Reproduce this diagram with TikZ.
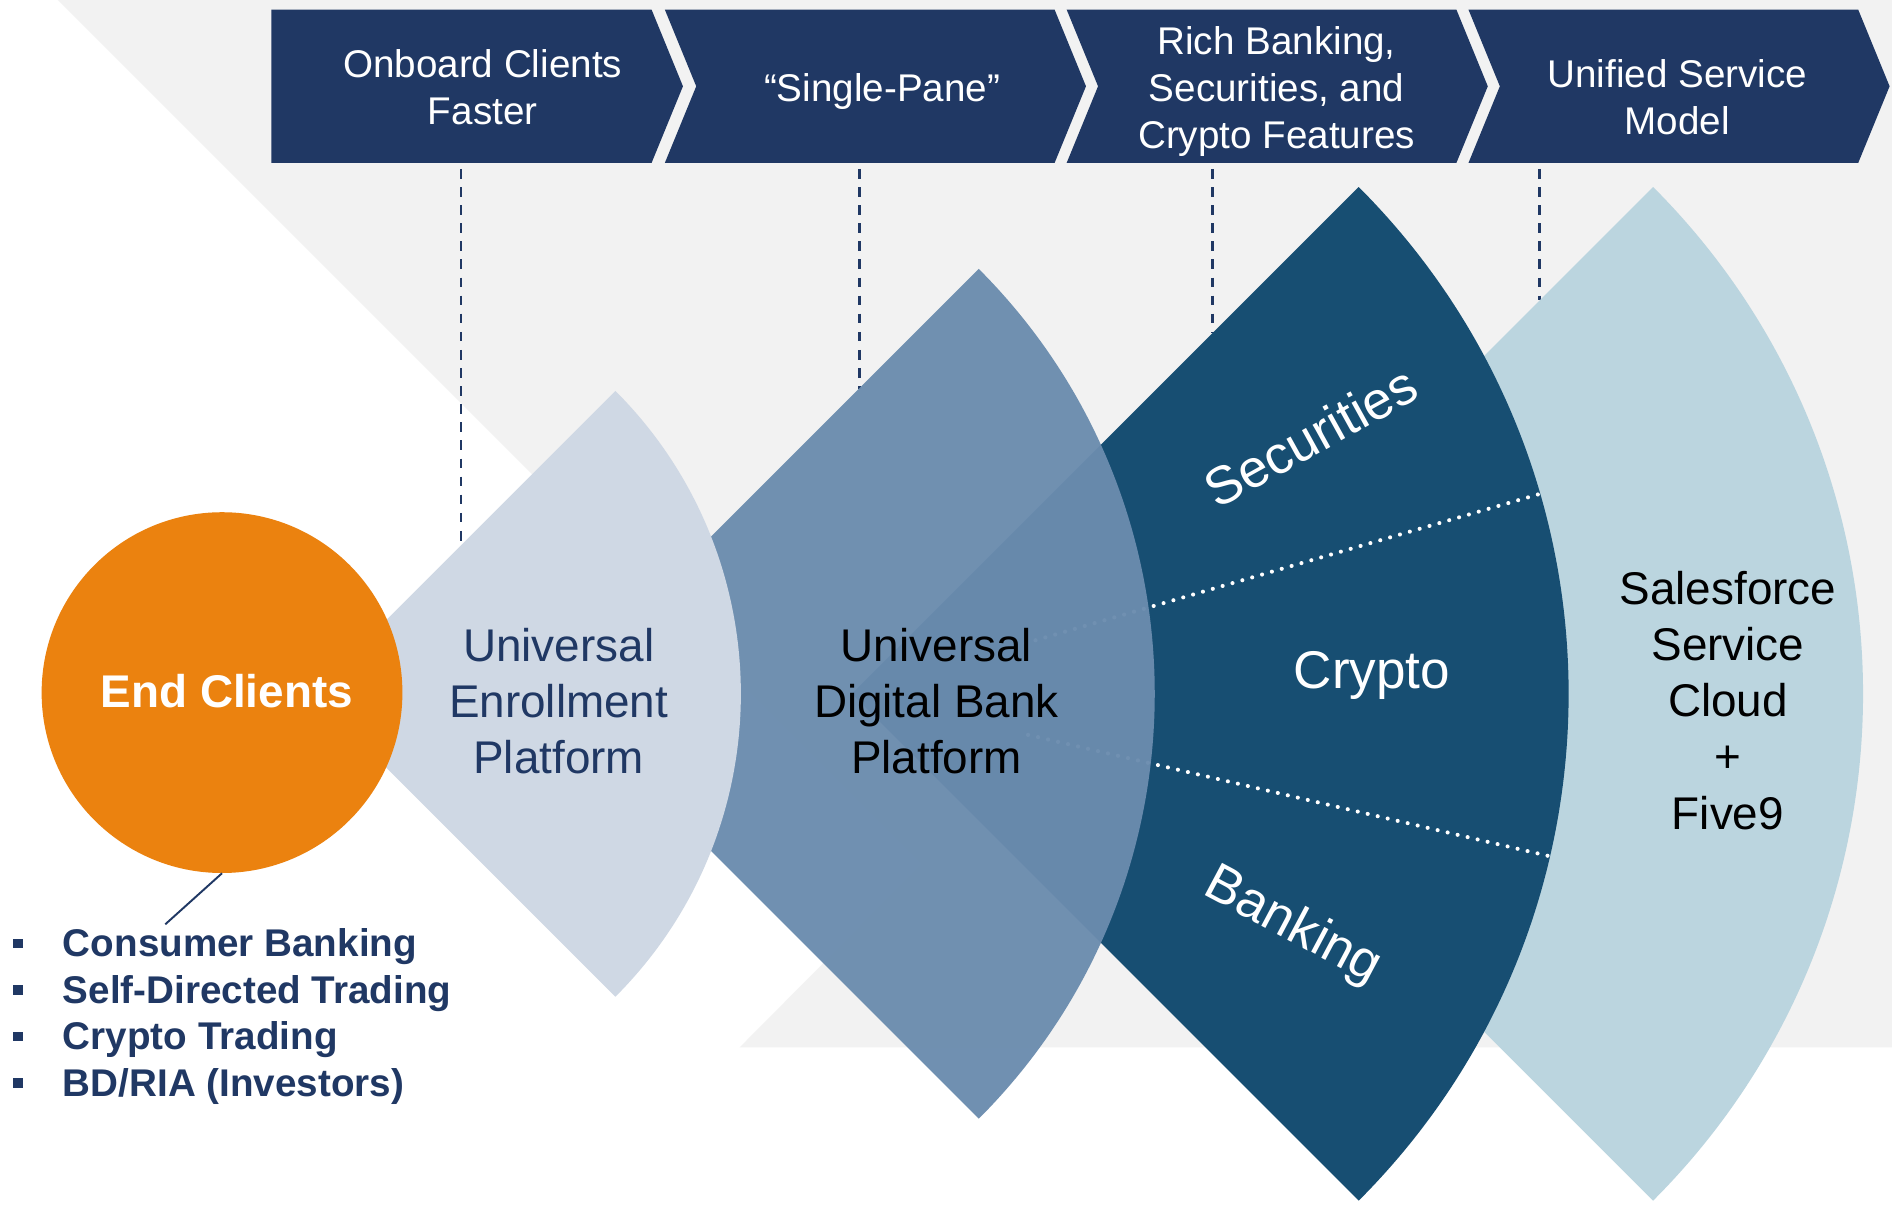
\documentclass[tikz,border=0pt]{standalone}
\usepackage{fontspec}
\setmainfont{Liberation Sans}
\definecolor{navy}{HTML}{203864}
\definecolor{bggray}{HTML}{F2F2F2}
\definecolor{fanA}{HTML}{CFD8E4}
\definecolor{fanB}{HTML}{6B8CAE}
\definecolor{fanC}{HTML}{174E72}
\definecolor{fanD}{HTML}{BBD5DF}
\definecolor{orng}{HTML}{EB820F}
\begin{document}
\begin{tikzpicture}[x=1pt,y=-1pt,
  chev/.style={fill=navy},
  chevtxt/.style={text=white, font=\fontsize{32}{39}\selectfont, align=center, inner sep=0},
  fantxt/.style={font=\fontsize{38}{46.5}\selectfont, align=center, inner sep=0},
  seg/.style={text=white, font=\fontsize{44}{52}\selectfont, inner sep=0},
  dashline/.style={navy, line width=2.3pt, dash pattern=on 8pt off 7pt},
  dotline/.style={white, line width=3.4pt, line cap=round, dash pattern=on 0pt off 8.5pt},
  listtxt/.style={text=navy, font=\fontsize{32}{38}\selectfont\bfseries, anchor=base west, inner sep=0},
  bulletbox/.style={fill=navy, minimum size=8pt, inner sep=0}]
\useasboundingbox (0,0) rectangle (1568,1006);
\fill[white] (0,0) rectangle (1568,1006);
% background
\fill[bggray] (48,0) -- (1568,0) -- (1568,868) -- (613,868) -- (764,716) -- cycle;

% chevrons
\fill[chev] (225,8) -- (540,8) -- (566,71.5) -- (540,135) -- (225,135) -- cycle;
\foreach \L in {551,884,1217}
  \fill[chev] (\L,8) -- (\L+323,8) -- (\L+349,71.5) -- (\L+323,135) -- (\L,135) -- (\L+26,71.5) -- cycle;
\node[chevtxt] (c1) at (400,72) {Onboard Clients\\Faster};
\node[chevtxt] (c2) at (731,76) {“Single-Pane”};
\node[chevtxt] (c3) at (1058,75.5) {Rich Banking,\\Securities, and\\Crypto Features};
\node[chevtxt] (c4) at (1390,80.5) {Unified Service\\Model};

% dashed connectors
\coordinate (d1a) at (382,140); \coordinate (d1b) at (382,452);
\coordinate (d2a) at (712,140); \coordinate (d2b) at (712,322);
\coordinate (d3a) at (1005,140); \coordinate (d3b) at (1005,276);
\coordinate (d4a) at (1276,140); \coordinate (d4b) at (1276,249);
\draw[dashline] (d1a) -- (d1b);
\draw[dashline] (d2a) -- (d2b);
\draw[dashline] (d3a) -- (d3b);
\draw[dashline] (d4a) -- (d4b);

% fan 4
\fill[fanD] (950,575) -- ++(-45:594) arc[start angle=-45, end angle=45, radius=594] -- cycle;
% fan 3
\fill[fanC] (706,575) -- ++(-45:594) arc[start angle=-45, end angle=45, radius=594] -- cycle;
\coordinate (u1) at (850,533); \coordinate (u2) at (1274.5,409.8);
\coordinate (w1) at (852,609); \coordinate (w2) at (1282.6,709.2);
\draw[dotline] (u1) -- (u2);
\draw[dotline] (w1) -- (w2);
\node[seg, rotate=29] (sec) at (1086,362) {Securities};
\node[seg] (cry) at (1137,559.5) {Crypto};
\node[seg, rotate=-28] (bnk) at (1071,768) {Banking};
% fan 2
\fill[fanB, fill opacity=0.96] (459,575) -- ++(-45:498) arc[start angle=-45, end angle=45, radius=498] -- cycle;
% fan 1
\fill[fanA] (259,575) -- ++(-45:355) arc[start angle=-45, end angle=45, radius=355] -- cycle;

\node[fantxt, text=navy] (uep) at (463,581) {Universal\\Enrollment\\Platform};
\node[fantxt, text=black] (udb) at (776,581) {Universal\\Digital Bank\\Platform};
\node[fantxt, text=black] (sf) at (1432,580.5) {Salesforce\\Service\\Cloud\\+\\Five9};

% end clients
\node[circle, fill=orng, minimum size=299pt, inner sep=0] (ec) at (184,574) {};
\node[text=white, font=\fontsize{38}{46}\selectfont\bfseries, inner sep=0] (ectxt) at (188,573) {End Clients};
\coordinate (lst) at (137,766);
\draw[navy, line width=1.6pt] (ec.south) -- (lst);

% list
\node[bulletbox] (b1) at (15,782) {};
\node[bulletbox] (b2) at (15,820.5) {};
\node[bulletbox] (b3) at (15,859) {};
\node[bulletbox] (b4) at (15,897.5) {};
\node[listtxt] (l1) at (52,793) {Consumer Banking};
\node[listtxt] (l2) at (52,831.5) {Self-Directed Trading};
\node[listtxt] (l3) at (52,870) {Crypto Trading};
\node[listtxt] (l4) at (52,908.5) {BD/RIA (Investors)};
\end{tikzpicture}
\end{document}
